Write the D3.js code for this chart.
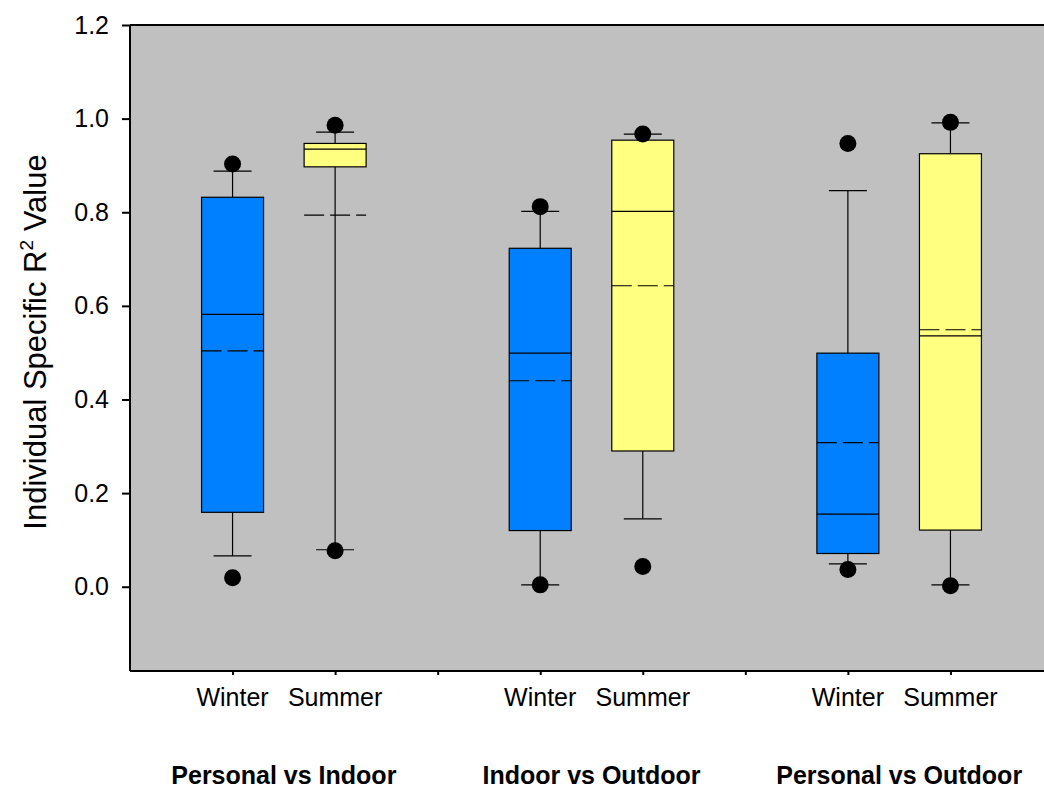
<!DOCTYPE html>
<html>
<head>
<meta charset="utf-8">
<script src="https://cdn.jsdelivr.net/npm/d3@7"></script>
<style>
  html, body { margin: 0; padding: 0; background: #fff; }
  svg { display: block; font-family: "Liberation Sans", Arial, sans-serif; }
</style>
</head>
<body>
<svg id="chart" width="1044" height="790"></svg>
<script>
// Box positions on the x scale (slots 3 and 6 are left empty as gaps)
const positions   = [1, 2, 4, 5, 7, 8];
const seasons     = ["Winter", "Summer", "Winter", "Summer", "Winter", "Summer"];
const comparisons = ["Personal vs Indoor", "Indoor vs Outdoor", "Personal vs Outdoor"];
const comparisonPos = [1.5, 4.5, 7.5];

// Box statistics per box
const q1          = [0.159, 0.897, 0.120, 0.290, 0.071, 0.121];
const median      = [0.582, 0.935, 0.499, 0.802, 0.155, 0.536];
const q3          = [0.832, 0.947, 0.723, 0.954, 0.499, 0.925];
const mean        = [0.504, 0.794, 0.440, 0.643, 0.308, 0.549];
const whiskerLow  = [0.066, 0.079, 0.004, 0.145, 0.049, 0.004];
const whiskerHigh = [0.888, 0.971, 0.802, 0.967, 0.846, 0.991];
const outlierLow  = [0.019, 0.077, 0.004, 0.043, 0.037, 0.002];
const outlierHigh = [0.903, 0.986, 0.812, 0.967, 0.947, 0.992];

const yTicks = [0.0, 0.2, 0.4, 0.6, 0.8, 1.0, 1.2];
const xTicks = [1, 2, 3, 4, 5, 6, 7, 8];

const seasonColor = { Winter: "#0080FF", Summer: "#FFFF80" };

const svg = d3.select("#chart");
const W = 1044;

const x = d3.scaleLinear().domain([0, 9]).range([130, 1053]);
const y = d3.scaleLinear().domain([-0.18, 1.2]).range([671, 25]);

const boxW = 62, capW = 38, dotR = 8.5;

// Plot background
svg.append("rect")
  .attr("x", x(0)).attr("y", y(1.2))
  .attr("width", W - x(0)).attr("height", y(-0.18) - y(1.2))
  .attr("fill", "#C0C0C0");

// Top frame line
svg.append("line")
  .attr("x1", x(0)).attr("x2", W)
  .attr("y1", y(1.2)).attr("y2", y(1.2))
  .attr("stroke", "#000").attr("stroke-width", 2);

// Boxes
const data = positions.map((p, i) => ({
  p, season: seasons[i], q1: q1[i], med: median[i], q3: q3[i], mean: mean[i],
  wl: whiskerLow[i], wh: whiskerHigh[i], ol: outlierLow[i], oh: outlierHigh[i]
}));

const g = svg.append("g");
const box = g.selectAll("g.box").data(data).join("g").attr("class", "box");

// Whisker stems
box.append("line")
  .attr("x1", d => x(d.p)).attr("x2", d => x(d.p))
  .attr("y1", d => y(d.q3)).attr("y2", d => y(d.wh))
  .attr("stroke", "#000").attr("stroke-width", 1.2);
box.append("line")
  .attr("x1", d => x(d.p)).attr("x2", d => x(d.p))
  .attr("y1", d => y(d.q1)).attr("y2", d => y(d.wl))
  .attr("stroke", "#000").attr("stroke-width", 1.2);

// Whisker caps
["wh", "wl"].forEach(k => {
  box.append("line")
    .attr("x1", d => x(d.p) - capW / 2).attr("x2", d => x(d.p) + capW / 2)
    .attr("y1", d => y(d[k])).attr("y2", d => y(d[k]))
    .attr("stroke", "#000").attr("stroke-width", 1.2);
});

// Interquartile box
box.append("rect")
  .attr("x", d => x(d.p) - boxW / 2)
  .attr("y", d => y(d.q3))
  .attr("width", boxW)
  .attr("height", d => y(d.q1) - y(d.q3))
  .attr("fill", d => seasonColor[d.season])
  .attr("stroke", "#000").attr("stroke-width", 1.2);

// Median (solid) and mean (dashed)
box.append("line")
  .attr("x1", d => x(d.p) - boxW / 2).attr("x2", d => x(d.p) + boxW / 2)
  .attr("y1", d => y(d.med)).attr("y2", d => y(d.med))
  .attr("stroke", "#000").attr("stroke-width", 1.2);
box.append("line")
  .attr("x1", d => x(d.p) - boxW / 2).attr("x2", d => x(d.p) + boxW / 2)
  .attr("y1", d => y(d.mean)).attr("y2", d => y(d.mean))
  .attr("stroke", "#000").attr("stroke-width", 1.2)
  .attr("stroke-dasharray", "20,6");

// Extreme points
["oh", "ol"].forEach(k => {
  box.append("circle")
    .attr("cx", d => x(d.p)).attr("cy", d => y(d[k]))
    .attr("r", dotR).attr("fill", "#000");
});

// Y axis
const yAxis = d3.axisLeft(y).tickValues(yTicks).tickFormat(d3.format(".1f"))
  .tickSize(8).tickPadding(13);
const ya = svg.append("g").attr("transform", `translate(${x(0)},0)`).call(yAxis);
ya.select(".domain").attr("stroke-width", 2).attr("d", `M0,${y(1.2)}V${y(-0.18)}`);
ya.selectAll(".tick line").attr("stroke-width", 2);
ya.selectAll(".tick text").attr("font-size", 25).attr("fill", "#000")
  .attr("font-family", "Liberation Sans, Arial, sans-serif");

// X axis
const xAxis = d3.axisBottom(x).tickValues(xTicks).tickFormat("").tickSize(4);
const xa = svg.append("g").attr("transform", `translate(0,${y(-0.18)})`).call(xAxis);
xa.select(".domain").attr("stroke-width", 2).attr("d", `M${x(0)},0H${W}`);
xa.selectAll(".tick line").attr("stroke-width", 2);

// Season labels
svg.append("g").selectAll("text").data(data).join("text")
  .attr("x", d => x(d.p)).attr("y", 706)
  .attr("text-anchor", "middle")
  .attr("font-size", 25)
  .text(d => d.season);

// Comparison labels
svg.append("g").selectAll("text").data(comparisons).join("text")
  .attr("x", (d, i) => x(comparisonPos[i])).attr("y", 784)
  .attr("text-anchor", "middle")
  .attr("font-size", 25).attr("font-weight", "bold")
  .text(d => d);

// Y axis title
const title = svg.append("text")
  .attr("transform", "translate(46,342) rotate(-90)")
  .attr("text-anchor", "middle")
  .attr("font-size", 31);
title.append("tspan").text("Individual Specific R");
title.append("tspan").attr("font-size", 19).attr("dy", -13).text("2");
title.append("tspan").attr("dy", 13).text(" Value");
</script>
</body>
</html>
